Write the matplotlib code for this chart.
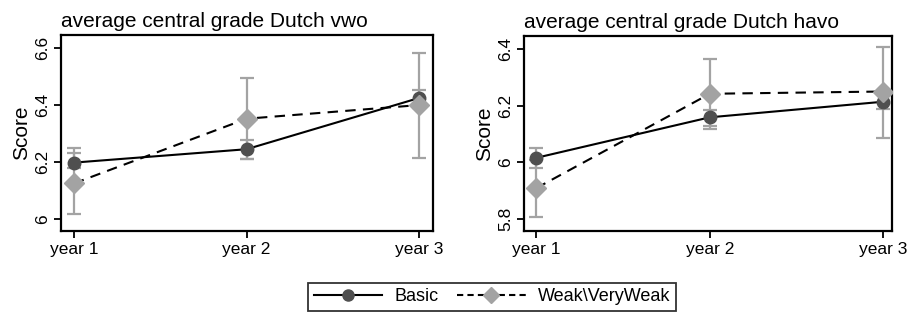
import matplotlib
matplotlib.use("Agg")
from matplotlib import pyplot as plt
from matplotlib.lines import Line2D

plt.rcParams['font.family'] = ['Liberation Sans', 'DejaVu Sans']

years = [1, 2, 3]
year_labels = ["year 1", "year 2", "year 3"]

# vwo panel
vwo_basic = [6.198, 6.245, 6.425]
vwo_basic_lo = [6.18, 6.21, 6.39]
vwo_basic_hi = [6.233, 6.277, 6.453]
vwo_weak = [6.125, 6.352, 6.40]
vwo_weak_lo = [6.016, 6.21, 6.215]
vwo_weak_hi = [6.25, 6.496, 6.581]

# havo panel
havo_basic = [6.016, 6.159, 6.214]
havo_basic_lo = [5.98, 6.129, 6.19]
havo_basic_hi = [6.051, 6.185, 6.24]
havo_weak = [5.909, 6.242, 6.25]
havo_weak_lo = [5.808, 6.117, 6.087]
havo_weak_hi = [6.01, 6.364, 6.408]

fig = plt.figure(figsize=(9.13, 3.12), dpi=100)
ax1 = fig.add_axes([0.0668, 0.2596, 0.4075, 0.6284])
ax2 = fig.add_axes([0.574, 0.2596, 0.403, 0.6252])

dark = "#4f4f4f"
light = "#a3a3a3"


def panel(ax, basic, blo, bhi, weak, wlo, whi, title, yticks, ylim, xlim):
    # error bars first (gray), then lines and markers
    ax.vlines(years, wlo, whi, color=light, lw=1.6, zorder=1)
    ax.vlines(years, blo, bhi, color=light, lw=1.6, zorder=1)
    for lo, hi in [(wlo, whi), (blo, bhi)]:
        ax.scatter(years, lo, marker="_", s=110, color=light, lw=1.6, zorder=1)
        ax.scatter(years, hi, marker="_", s=110, color=light, lw=1.6, zorder=1)
    ax.plot(years, basic, color="black", lw=1.5, zorder=2)
    ax.plot(years, weak, color="black", lw=1.5, ls=(0, (5, 3.5)), zorder=2)
    ax.plot(years, basic, ls="none", marker="o", ms=9, color=dark, zorder=3)
    ax.plot(years, weak, ls="none", marker="D", ms=10, color=light, zorder=4)
    ax.set_xlim(xlim)
    ax.set_ylim(ylim)
    ax.set_xticks(years)
    ax.set_xticklabels(year_labels, fontsize=12.5)
    ax.set_yticks(yticks)
    ax.set_yticklabels([f"{v:g}" for v in yticks], fontsize=12.5, rotation=90, va="center")
    ax.set_ylabel("Score", fontsize=15, labelpad=3)
    ax.set_title(title, fontsize=15, loc="left", pad=6)
    ax.tick_params(direction="out", length=5, width=1.3, pad=3)
    for s in ax.spines.values():
        s.set_linewidth(1.6)


panel(ax1, vwo_basic, vwo_basic_lo, vwo_basic_hi, vwo_weak, vwo_weak_lo, vwo_weak_hi,
      "average central grade Dutch vwo", [6.0, 6.2, 6.4, 6.6], (5.958, 6.646), (0.925, 3.08))
panel(ax2, havo_basic, havo_basic_lo, havo_basic_hi, havo_weak, havo_weak_lo, havo_weak_hi,
      "average central grade Dutch havo", [5.8, 6.0, 6.2, 6.4], (5.758, 6.446), (0.93, 3.05))

handles = [
    Line2D([], [], color="black", lw=1.5, marker="o", ms=8, mfc=dark, mec=dark),
    Line2D([], [], color="black", lw=1.5, ls=(0, (3, 2)), marker="D", ms=8, mfc=light, mec=light),
]
leg = fig.legend(handles, ["Basic", "Weak\\VeryWeak"], ncol=2, loc="upper center",
                 bbox_to_anchor=(0.539, 0.093), frameon=True, fancybox=False,
                 edgecolor="black", fontsize=13, handlelength=3.8, columnspacing=1.0,
                 handletextpad=0.7, borderpad=0.3, borderaxespad=0)
leg.get_frame().set_linewidth(1.3)

fig.savefig("out.png", dpi=100)
